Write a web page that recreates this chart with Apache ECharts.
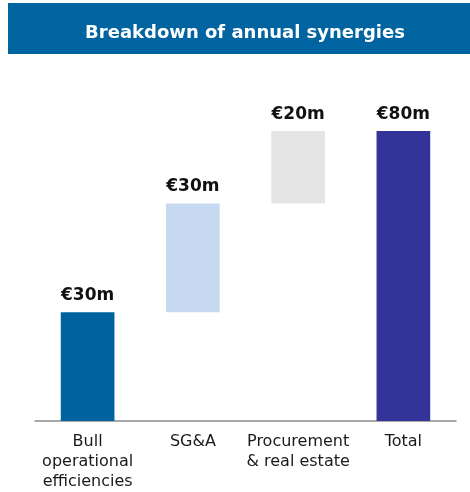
<!DOCTYPE html>
<html>
<head>
<meta charset="utf-8">
<script src="https://cdn.jsdelivr.net/npm/echarts@6/dist/echarts.min.js"></script>
<style>
  html, body { margin: 0; padding: 0; background: #fff; }
  #main { width: 470px; height: 492px; }
</style>
</head>
<body>
<div id="main"></div>
<script>
// 年度协同效应分解 (waterfall)
const categories = ['Bull\noperational\nefficiencies', 'SG&A', 'Procurement\n& real estate', 'Total']
const baseValues = [0, 30, 60, 0]
const stepValues = [30, 30, 20, 80]
const valueLabels = ['€30m', '€30m', '€20m', '€80m']
const barColors = ['#00639f', '#c6d9f0', '#e5e5e5', '#333399']

let myChart = echarts.init(document.getElementById('main'))
let option = {
  animation: false,
  graphic: [
    {
      type: 'rect',
      shape: { x: 8, y: 3, width: 462, height: 51 },
      style: { fill: '#0064a0' },
    },
  ],
  title: {
    text: 'Breakdown of annual synergies',
    left: 240,
    top: 19,
    textAlign: 'center',
    textStyle: {
      color: '#fff',
      fontFamily: 'DejaVu Sans',
      fontWeight: 'bold',
      fontSize: 18,
    },
  },
  grid: { left: 35, right: 14, top: 131, bottom: 71 },
  xAxis: {
    type: 'category',
    data: categories,
    axisLine: { lineStyle: { color: '#8c8c8c', width: 1.5 } },
    axisTick: { show: false },
    axisLabel: {
      color: '#1a1a1a',
      fontFamily: 'DejaVu Sans',
      fontSize: 16,
      lineHeight: 20,
      margin: 11,
      interval: 0,
    },
  },
  yAxis: {
    type: 'value',
    min: 0,
    max: 80,
    show: false,
  },
  series: [
    {
      type: 'bar',
      stack: 'w',
      data: baseValues,
      barWidth: '51%',
      itemStyle: { color: 'transparent' },
      silent: true,
    },
    {
      type: 'bar',
      stack: 'w',
      barWidth: '51%',
      data: stepValues.map((v, i) => ({ value: v, itemStyle: { color: barColors[i] } })),
      label: {
        show: true,
        position: 'top',
        distance: 8,
        formatter: (p) => valueLabels[p.dataIndex],
        color: '#111',
        fontFamily: 'DejaVu Sans',
        fontWeight: 'bold',
        fontSize: 17,
      },
    },
  ],
}
myChart.setOption(option)
</script>
</body>
</html>
